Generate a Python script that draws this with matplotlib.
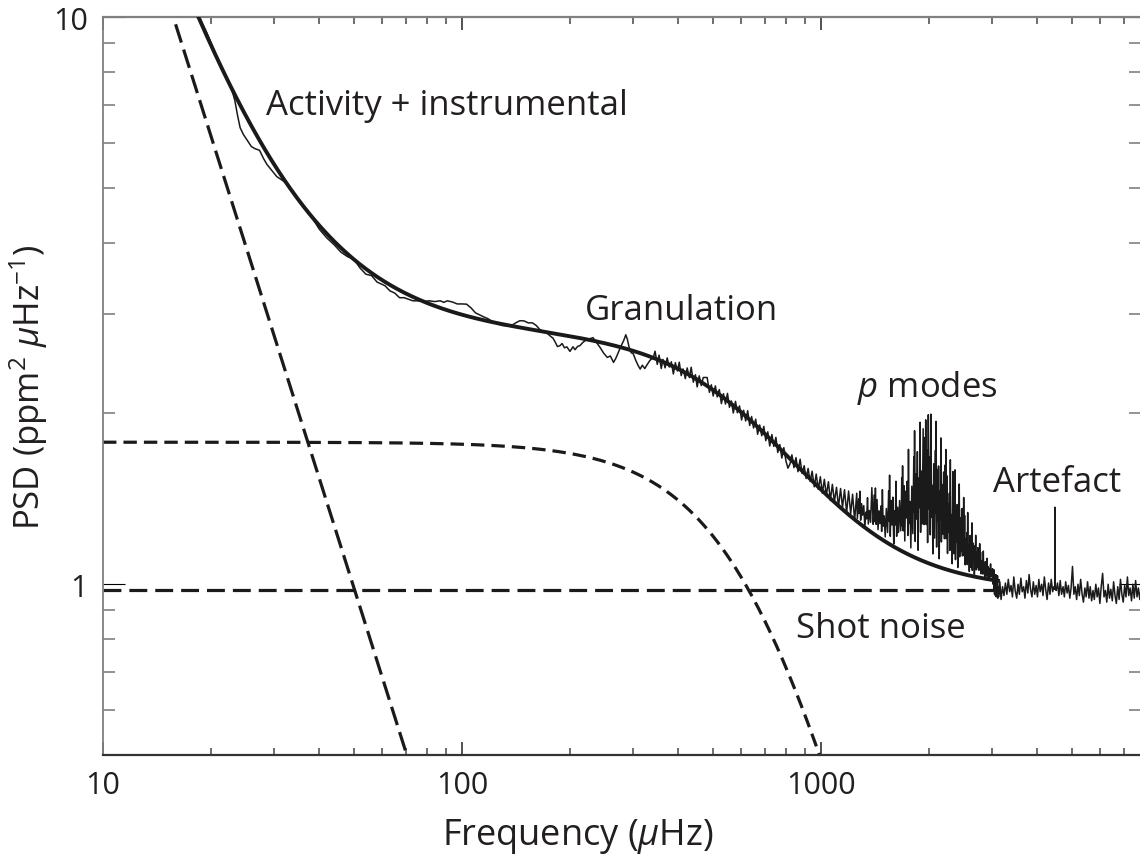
import numpy as np
import matplotlib
matplotlib.use("Agg")
import matplotlib.pyplot as plt
from matplotlib.ticker import NullFormatter

plt.rcParams['font.family'] = ['Open Sans', 'DejaVu Sans']
plt.rcParams['mathtext.fontset'] = 'custom'
plt.rcParams['mathtext.rm'] = 'Open Sans'
plt.rcParams['mathtext.it'] = 'Open Sans:italic'
plt.rcParams['mathtext.bf'] = 'Open Sans:bold'

INK = '#231f20'
LINE = '#1a1a1a'

# ---------------------------------------------------------------------------
# Observed power spectrum (frequency in uHz, PSD in ppm^2/uHz)
# ---------------------------------------------------------------------------
low_freq = [18.0, 18.5, 19.0, 19.5, 20.0, 20.5, 21.0, 21.5, 22.0, 22.5,
            23.0, 23.3, 23.7, 24.1, 24.6, 25.2, 25.9, 26.5, 27.3, 28.0,
            28.6, 29.5, 30.5, 31.5, 32.5, 34, 36, 38, 40, 42,
            44, 46, 48, 50, 52, 54, 56, 58, 61, 63,
            65, 67, 69, 71, 73, 75, 78, 81, 84, 87,
            89, 91, 94, 97, 100, 103, 106, 109, 112, 115,
            118, 121, 125, 129, 133, 137, 141, 145, 149, 153,
            157, 161, 165, 169, 173, 177, 179.3, 182, 184.5, 187.5,
            190, 193, 196, 199.9, 203.8, 206.5, 210, 213.2, 217.3, 222.9,
            227, 231.7, 237, 242.7, 248, 254, 259, 264.3, 268, 271.2,
            276.4, 282, 286, 288.9, 292, 296, 300, 305, 309, 313.6,
            318, 323, 328, 334, 341]
low_psd = [10.46, 10.05, 9.68, 9.35, 9.00, 8.66, 8.34, 8.11, 7.83, 7.62,
           7.34, 7.12, 6.71, 6.38, 6.21, 6.07, 5.91, 5.86, 5.82, 5.63,
           5.50, 5.37, 5.23, 5.16, 5.09, 4.90, 4.65, 4.46, 4.23, 4.08,
           3.97, 3.85, 3.78, 3.74, 3.61, 3.52, 3.50, 3.41, 3.36, 3.29,
           3.26, 3.20, 3.20, 3.18, 3.16, 3.16, 3.15, 3.16, 3.15, 3.16,
           3.14, 3.16, 3.145, 3.12, 3.12, 3.117, 3.07, 3.01, 2.985, 2.96,
           2.94, 2.91, 2.885, 2.86, 2.855, 2.855, 2.888, 2.915, 2.912, 2.889,
           2.890, 2.859, 2.809, 2.789, 2.767, 2.732, 2.715, 2.67, 2.624, 2.634,
           2.657, 2.611, 2.621, 2.573, 2.622, 2.591, 2.626, 2.635, 2.670, 2.702,
           2.709, 2.721, 2.667, 2.613, 2.556, 2.511, 2.526, 2.461, 2.499, 2.542,
           2.618, 2.687, 2.753, 2.702, 2.619, 2.56, 2.548, 2.480, 2.436, 2.395,
           2.433, 2.400, 2.439, 2.482, 2.507]

mid_freq = [345, 350, 354, 359, 363, 368, 373, 378, 383, 388,
            393, 398, 403, 408, 413, 419, 424, 430, 435, 441,
            447, 452, 458, 464, 470, 476, 482, 489, 495, 501,
            508, 514, 521, 528, 535, 542, 549, 556, 563, 570,
            578, 585, 593, 601, 609, 617, 625, 633, 641, 649,
            658, 666, 675, 684, 693, 702, 711, 720, 730, 739,
            749, 758, 768, 778, 788, 799, 809, 820, 830, 841,
            852, 863, 875, 886, 898, 909, 921, 933, 945, 958,
            970, 983, 996, 1009, 1022, 1035, 1049, 1062, 1076, 1090,
            1105, 1119, 1134, 1148, 1163, 1179, 1194, 1210, 1225, 1241,
            1258]
mid_psd = [2.575, 2.441, 2.534, 2.400, 2.491, 2.407, 2.506, 2.415, 2.467, 2.348,
           2.458, 2.377, 2.463, 2.333, 2.396, 2.304, 2.406, 2.314, 2.413, 2.271,
           2.341, 2.228, 2.330, 2.240, 2.314, 2.315, 2.314, 2.179, 2.247, 2.147,
           2.237, 2.139, 2.204, 2.082, 2.167, 2.078, 2.170, 2.051, 2.104, 2.004,
           2.101, 2.006, 2.063, 1.948, 2.026, 1.940, 2.023, 1.905, 1.975, 1.885,
           1.954, 1.838, 1.909, 1.827, 1.898, 1.791, 1.857, 1.753, 1.836, 1.750,
           1.815, 1.707, 1.763, 1.669, 1.741, 1.649, 1.602, 1.630, 1.691, 1.605,
           1.672, 1.579, 1.661, 1.568, 1.618, 1.536, 1.600, 1.518, 1.582, 1.485,
           1.564, 1.470, 1.547, 1.447, 1.531, 1.434, 1.516, 1.405, 1.500, 1.398,
           1.482, 1.368, 1.475, 1.364, 1.468, 1.337, 1.460, 1.331, 1.441, 1.295,
           1.447]

pmode_freq = [
    1263, 1270, 1274, 1278, 1283, 1290, 1298, 1307, 1316, 1325, 1334, 1341, 1348, 1355, 1365, 1375, 1386,
    1398, 1405, 1409, 1413, 1418, 1425, 1433, 1442, 1451, 1460, 1469, 1476, 1483, 1490, 1500, 1510, 1521,
    1533, 1540, 1544, 1548, 1553, 1560, 1568, 1577, 1586, 1595, 1604, 1611, 1618, 1625, 1635, 1645, 1656,
    1668, 1675, 1679, 1683, 1688, 1695, 1703, 1712, 1721, 1730, 1739, 1746, 1753, 1760, 1770, 1780, 1791,
    1803, 1810, 1814, 1818, 1823, 1830, 1838, 1847, 1856, 1865, 1874, 1881, 1888, 1895, 1905, 1915, 1926,
    1938, 1945, 1949, 1953, 1958, 1965, 1973, 1982, 1991, 2000, 2009, 2016, 2023, 2030, 2040, 2050, 2061,
    2073, 2080, 2084, 2088, 2093, 2100, 2108, 2117, 2126, 2135, 2144, 2151, 2158, 2165, 2175, 2185, 2196,
    2208, 2215, 2219, 2223, 2228, 2235, 2243, 2252, 2261, 2270, 2279, 2286, 2293, 2300, 2310, 2320, 2331,
    2343, 2350, 2354, 2358, 2363, 2370, 2378, 2387, 2396, 2405, 2414, 2421, 2428, 2435, 2445, 2455, 2466,
    2478, 2485, 2489, 2493, 2498, 2505, 2513, 2522, 2531, 2540, 2549, 2556, 2563, 2570, 2580, 2590, 2601,
    2613, 2620, 2624, 2628, 2633, 2640, 2648, 2657, 2666, 2675, 2684, 2691, 2698, 2705, 2715, 2725, 2736,
    2748, 2755, 2759, 2763, 2768, 2775, 2783, 2792, 2801, 2810, 2819, 2826, 2833, 2840, 2850, 2860, 2871,
    2883, 2890, 2894, 2898, 2903, 2910, 2918, 2927, 2936, 2945, 2954, 2961, 2968, 2975, 2985, 2995, 3006,
    3018, 3025, 3029, 3033, 3038, 3045, 3053, 3062, 3071, 3080, 3089, 3096, 3103, 3110, 3118]
pmode_psd = [
    1.306, 1.378, 1.414, 1.333, 1.459, 1.297, 1.387, 1.324, 1.376, 1.259, 1.340, 1.304, 1.421, 1.277, 1.349, 1.286, 1.480,
    1.275, 1.343, 1.437, 1.289, 1.478, 1.275, 1.410, 1.248, 1.347, 1.279, 1.374, 1.239, 1.468, 1.266, 1.320, 1.212, 1.360,
    1.234, 1.386, 1.462, 1.291, 1.557, 1.215, 1.405, 1.272, 1.424, 1.177, 1.348, 1.272, 1.519, 1.215, 1.367, 1.234, 1.405,
    1.242, 1.367, 1.542, 1.267, 1.617, 1.242, 1.492, 1.192, 1.459, 1.309, 1.519, 1.219, 1.729, 1.279, 1.399, 1.159, 1.489,
    1.228, 1.528, 1.678, 1.340, 1.865, 1.190, 1.565, 1.303, 1.713, 1.148, 1.539, 1.365, 1.930, 1.235, 1.583, 1.278, 1.880,
    1.274, 1.499, 1.814, 1.319, 1.949, 1.274, 1.724, 1.184, 1.990, 1.358, 1.677, 1.222, 1.995, 1.313, 1.495, 1.131, 1.631,
    1.206, 1.550, 1.722, 1.335, 1.937, 1.163, 1.593, 1.292, 1.616, 1.109, 1.460, 1.304, 1.811, 1.187, 1.499, 1.226, 1.577,
    1.203, 1.378, 1.623, 1.238, 1.728, 1.203, 1.553, 1.133, 1.387, 1.237, 1.447, 1.147, 1.657, 1.207, 1.327, 1.087, 1.580,
    1.132, 1.348, 1.456, 1.213, 1.591, 1.105, 1.375, 1.186, 1.382, 1.070, 1.286, 1.190, 1.502, 1.118, 1.310, 1.142, 1.358,
    1.122, 1.222, 1.362, 1.142, 1.422, 1.122, 1.322, 1.082, 1.203, 1.128, 1.233, 1.083, 1.338, 1.113, 1.173, 1.053, 1.218,
    1.071, 1.171, 1.221, 1.108, 1.283, 1.058, 1.183, 1.096, 1.170, 1.040, 1.130, 1.090, 1.220, 1.060, 1.140, 1.070, 1.160,
    1.059, 1.099, 1.155, 1.067, 1.179, 1.059, 1.139, 1.043, 1.090, 1.060, 1.102, 1.042, 1.144, 1.054, 1.078, 1.030, 1.096,
    1.035, 1.071, 1.089, 1.048, 1.111, 1.030, 1.075, 1.044, 1.068, 1.023, 1.054, 1.040, 1.086, 1.030, 1.058, 1.033, 1.065,
    1.000, 1.045, 1.030, 0.975, 1.060, 0.960, 1.020, 0.955, 1.040, 0.950, 1.010, 0.970, 1.035, 0.945, 0.990]

high_freq = [3125, 3150, 3175, 3205, 3235, 3265, 3295, 3325, 3355, 3385,
             3415, 3445, 3475, 3510, 3540, 3570, 3605, 3635, 3670, 3700,
             3735, 3770, 3800, 3835, 3870, 3905, 3940, 3975, 4010, 4045,
             4080, 4120, 4155, 4190, 4230, 4265, 4305, 4345, 4380, 4420,
             4455, 4480, 4487, 4494, 4520, 4560, 4600, 4640, 4680, 4725,
             4765, 4805, 4850, 4890, 4935, 4975, 5020, 5065, 5110, 5155,
             5200, 5245, 5290, 5340, 5385, 5435, 5480, 5530, 5580, 5625,
             5675, 5725, 5775, 5830, 5880, 5930, 5985, 6035, 6090, 6145,
             6200, 6255, 6310, 6365, 6420, 6480, 6535, 6595, 6650, 6710,
             6770, 6830, 6890, 6950, 7015, 7075, 7140, 7200, 7265, 7330,
             7395, 7460, 7525, 7595, 7660, 7730, 7800]
high_psd = [0.95, 1.01, 0.94, 0.99, 0.955, 1.005, 0.96, 1.02, 0.97, 0.995,
            0.95, 1.03, 0.975, 0.945, 1.00, 0.96, 1.025, 0.97, 0.99, 0.945,
            1.015, 0.965, 1.04, 0.98, 0.95, 1.01, 0.96, 0.995, 0.95, 1.02,
            0.97, 1.00, 0.955, 1.03, 0.975, 0.94, 1.005, 0.96, 1.02, 0.97,
            0.99, 0.98, 1.367, 0.985, 0.975, 1.005, 0.955, 1.015, 0.96, 0.99,
            0.95, 1.01, 0.965, 0.995, 0.945, 0.985, 1.075, 0.96, 0.99, 0.94,
            1.00, 0.955, 1.02, 0.96, 0.93, 0.985, 0.95, 1.01, 0.945, 0.99,
            0.935, 0.975, 0.94, 1.00, 0.95, 0.985, 0.925, 0.99, 1.045, 0.95,
            0.975, 0.93, 1.00, 0.945, 0.98, 0.935, 1.01, 0.955, 0.925, 0.99,
            0.94, 1.02, 0.96, 0.93, 0.995, 0.95, 1.03, 0.955, 0.985, 0.935,
            1.00, 0.945, 1.015, 0.95, 0.985, 0.94, 0.99]

for fr, ps in [(low_freq, low_psd), (mid_freq, mid_psd),
               (pmode_freq, pmode_psd), (high_freq, high_psd)]:
    assert len(fr) == len(ps)

spec_freq = np.concatenate([low_freq, mid_freq, pmode_freq, high_freq])
spec_psd = np.concatenate([low_psd, mid_psd, pmode_psd, high_psd])

# ---------------------------------------------------------------------------
# Background model: activity power law + Harvey granulation + white noise
# ---------------------------------------------------------------------------
activity_amp = 2464.0     # power law ~ f^-2
gran_amp = 1.78
gran_fc = 680.0
gran_exp = 2.5
shot_level = 0.975


def activity(f):
    return activity_amp / f ** 2


def granulation(f):
    return gran_amp / (1.0 + (f / gran_fc) ** gran_exp)


f_act = np.geomspace(10, 120, 300)
f_gran = np.geomspace(10, 1300, 500)
f_shot = np.array([10.0, 3100.0])
f_fit = np.geomspace(15, 3150, 800)
fit_total = activity(f_fit) + granulation(f_fit) + shot_level

# ---------------------------------------------------------------------------
fig = plt.figure(figsize=(11.4, 8.62), dpi=100)
ax = fig.add_axes([103 / 1140, 106 / 862, 1038 / 1140, 738 / 862])
ax.set_xscale('log')
ax.set_yscale('log')

ax.plot(spec_freq, spec_psd, color=LINE, lw=1.1, zorder=2)
ax.plot(f_fit, fit_total, color=LINE, lw=2.8, solid_capstyle='butt', zorder=3)
ax.plot(f_act, activity(f_act), color=LINE, lw=2.3,
        linestyle=(0, (6.0, 2.3)), zorder=2)
ax.plot(f_gran, granulation(f_gran), color=LINE, lw=2.3,
        linestyle=(0, (4.2, 2.2)), zorder=2)
ax.plot(f_shot, np.full_like(f_shot, shot_level), color=LINE, lw=2.3,
        linestyle=(0, (5.6, 2.5)), zorder=2)

ax.set_xlim(10, 7790)
ax.set_ylim(0.5, 10)

x_minor = [20, 30, 40, 50, 60, 70, 80, 90,
           200, 300, 400, 500, 600, 700, 800, 900,
           2000, 3000, 4000, 5000, 6000, 7000]
y_minor = [0.6, 0.7, 0.8, 0.9, 2, 3, 4, 5, 6, 7, 8, 9]
ax.set_xticks([10, 100, 1000], ['10', '100', '1000'])
ax.set_xticks(x_minor, minor=True)
ax.set_yticks([1, 10], ['1', '10'])
ax.set_yticks(y_minor, minor=True)
ax.xaxis.set_minor_formatter(NullFormatter())
ax.yaxis.set_minor_formatter(NullFormatter())

ax.tick_params(which='both', direction='in', top=True, right=True)
ax.tick_params(axis='x', which='major', length=9.5, width=1.2, color='#333333',
               pad=11, labelsize=22, labelcolor=INK)
ax.tick_params(axis='x', which='minor', length=5.2, width=1.2, color='#555555')
ax.tick_params(axis='y', which='major', length=16, width=0.8, color='black',
               pad=11, labelsize=22, labelcolor=INK)
ax.tick_params(axis='y', which='minor', length=8.6, width=1.2, color='#808080')

ax.spines['left'].set_color('#808080')
ax.spines['left'].set_linewidth(1.3)
ax.spines['top'].set_color('#808080')
ax.spines['top'].set_linewidth(1.6)
ax.spines['bottom'].set_color('#333333')
ax.spines['bottom'].set_linewidth(1.6)
ax.spines['right'].set_color('#808080')

ax.set_xlabel(r'Frequency ($\mu$Hz)', fontsize=26, color=INK)
ax.xaxis.set_label_coords(0.4576, -0.083)
ax.set_ylabel(r'PSD (ppm$^2$ $\mu$Hz$^{-1}$)', fontsize=25, color=INK)
ax.yaxis.set_label_coords(-0.051, 0.5)

label_kw = dict(fontsize=25, color=INK, ha='left', va='baseline', zorder=4)
ax.text(28.44, 6.744, 'Activity + instrumental', **label_kw)
ax.text(220.1, 2.934, 'Granulation', **label_kw)
ax.text(1260, 2.145, r'$p$ modes', **label_kw)
ax.text(3013, 1.461, 'Artefact', **label_kw)
ax.text(852, 0.806, 'Shot noise', **label_kw)

fig.savefig('out.png', dpi=100)
